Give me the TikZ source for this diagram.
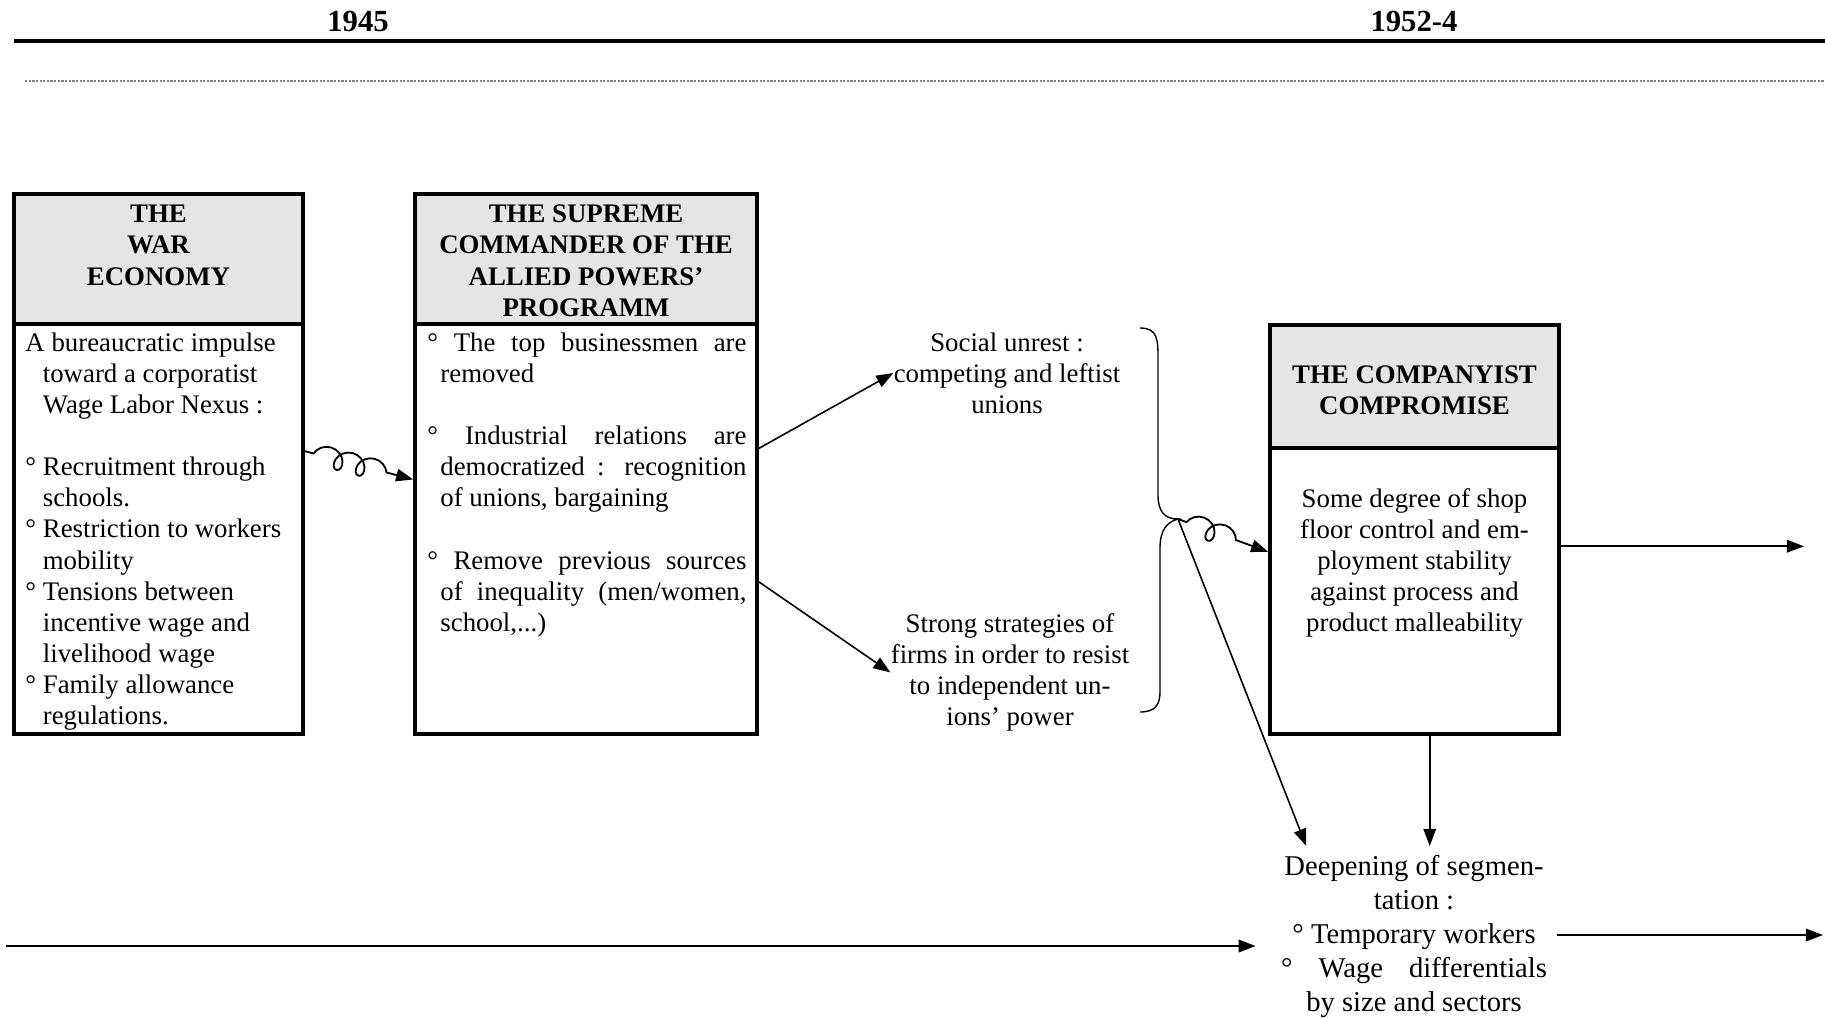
\documentclass[tikz,border=0pt]{standalone}
\usepackage{fontspec}
\setmainfont{Liberation Serif}
\usetikzlibrary{arrows.meta,decorations.pathmorphing}

\definecolor{hdrgray}{gray}{0.9}
\newcommand{\hangsp}{\hphantom{°\ }}

\tikzset{
	boxhead/.style={draw, line width=1.6pt, fill=hdrgray, inner sep=0pt},
	boxbody/.style={draw, line width=1.6pt, inner sep=0pt},
	hdtxt/.style={font=\bfseries\fontsize{11.8}{13.9}\selectfont, align=center, anchor=north, inner sep=0pt},
	bodytxt/.style={font=\fontsize{11.8}{13.7}\selectfont, inner sep=0pt},
	deeptxt/.style={font=\fontsize{12.6}{14.9}\selectfont, inner sep=4pt},
	year/.style={font=\bfseries\fontsize{13.5}{15}\selectfont},
	arr/.style={-{Triangle[length=7.5pt,width=5.5pt]}, line width=0.7pt},
	curly/.style={decorate, decoration={coil, amplitude=4.5pt, segment length=10pt, aspect=0.9, pre length=4pt, post length=10pt}, -{Triangle[length=7.5pt,width=5.5pt]}, line width=0.8pt}
}

\begin{document}
\begin{tikzpicture}[x=0.44pt,y=-0.44pt]
	\useasboundingbox (0,0) rectangle (1825,1017);

	% years
	\node[year] (y45) at (358,21) {1945};
	\node[year] (y52) at (1414,21) {1952-4};
	\draw [line width=2.1pt] (14,41) -- (1825,41);
	\draw [gray, line width=0.5pt, dash pattern=on 1pt off 0.6pt] (25,81) -- (1825,81);

	% war economy
	\node[boxhead, minimum width=127.2pt, minimum height=57.2pt] (warH) at (158.5,259) {};
	\node[boxbody, minimum width=127.2pt, minimum height=180.4pt] (war) at (158.5,529) {};
	\node[hdtxt] (warT) at (158.5,204) {THE\\WAR\\ECONOMY};
	\node[bodytxt, anchor=north west, align=left] (warB) at (25,332) {A bureaucratic impulse\\
		\hangsp toward a corporatist\\
		\hangsp Wage Labor Nexus :\\[13.7pt]
		° Recruitment through\\
		\hangsp schools.\\
		° Restriction to workers\\
		\hangsp mobility\\
		° Tensions between\\
		\hangsp incentive wage and\\
		\hangsp livelihood wage\\
		° Family allowance\\
		\hangsp regulations.};

	% SCAP
	\node[boxhead, minimum width=150.5pt, minimum height=57.2pt] (scapH) at (586,259) {};
	\node[boxbody, minimum width=150.5pt, minimum height=180.4pt] (scap) at (586,529) {};
	\node[hdtxt] (scapT) at (586,204) {THE SUPREME\\COMMANDER OF THE\\ALLIED POWERS’\\PROGRAMM};
	\node[bodytxt, anchor=north west, align=left] (scapB) at (427,332) {\makebox[140.4pt][s]{° The top businessmen are}\\
		\hspace*{5.7pt}removed\\[13.7pt]
		\makebox[140.4pt][s]{° Industrial relations are}\\
		\hspace*{5.7pt}\makebox[134.7pt][s]{democratized : recognition}\\
		\hspace*{5.7pt}of unions, bargaining\\[13.7pt]
		\makebox[140.4pt][s]{° Remove previous sources}\\
		\hspace*{5.7pt}\makebox[134.7pt][s]{of inequality (men/women,}\\
		\hspace*{5.7pt}school,...)};

	% middle
	\node[bodytxt, anchor=north, align=center] (unrest) at (1007,332) {Social unrest :\\competing and leftist\\unions};
	\node[bodytxt, anchor=north, align=center] (firms) at (1010,613) {Strong strategies of\\firms in order to resist\\to independent un-\\ions’ power};

	% brace
	\coordinate (tip) at (1178,519);
	\draw [line width=0.6pt] (1140,328) .. controls (1158,328) and (1158,340) .. (1158,360) -- (1158,495)
		.. controls (1158,512) and (1165,519) .. (tip)
		.. controls (1167,522) and (1160,530) .. (1160,548) -- (1160,692)
		.. controls (1160,705) and (1155,712) .. (1140,712);

	% companyist
	\node[boxhead, minimum width=127.2pt, minimum height=54.1pt] (compH) at (1414.5,386.5) {};
	\node[boxbody, minimum width=127.2pt, minimum height=125.8pt] (comp) at (1414.5,591) {};
	\node[hdtxt] (compT) at (1414.5,365) {THE COMPANYIST\\COMPROMISE};
	\node[bodytxt, anchor=north, align=center] (compB) at (1414.5,488) {Some degree of shop\\floor control and em-\\ployment stability\\against process and\\product malleability};

	% segmentation
	\node[deeptxt, anchor=north, align=center] (deep) at (1414,846) {Deepening of segmen-\\tation :\\° Temporary workers\\\makebox[117pt][s]{° Wage differentials}\\by size and sectors};

	% arrows
	\coordinate (out1) at (1804,546);
	\coordinate (out2) at (1823,935);
	\coordinate (lin) at (6,946);
	\draw [curly] (war.28) -- (scap.164);
	\draw [arr] (scap.25) -- (unrest.west);
	\draw [arr] (scap.-17) -- (firms.west);
	\draw [curly] (tip) -- (comp.165);
	\draw [arr] (tip) -- (deep.140);
	\draw [arr] (comp.-84) -- (comp.-84 |- deep.north);
	\draw [arr] (comp.17) -- (comp.17 -| out1);
	\draw [arr] (deep.east |- out2) -- (out2);
	\draw [arr, line width=1pt, shorten >=7pt] (lin) -- (lin -| deep.west);
\end{tikzpicture}
\end{document}
